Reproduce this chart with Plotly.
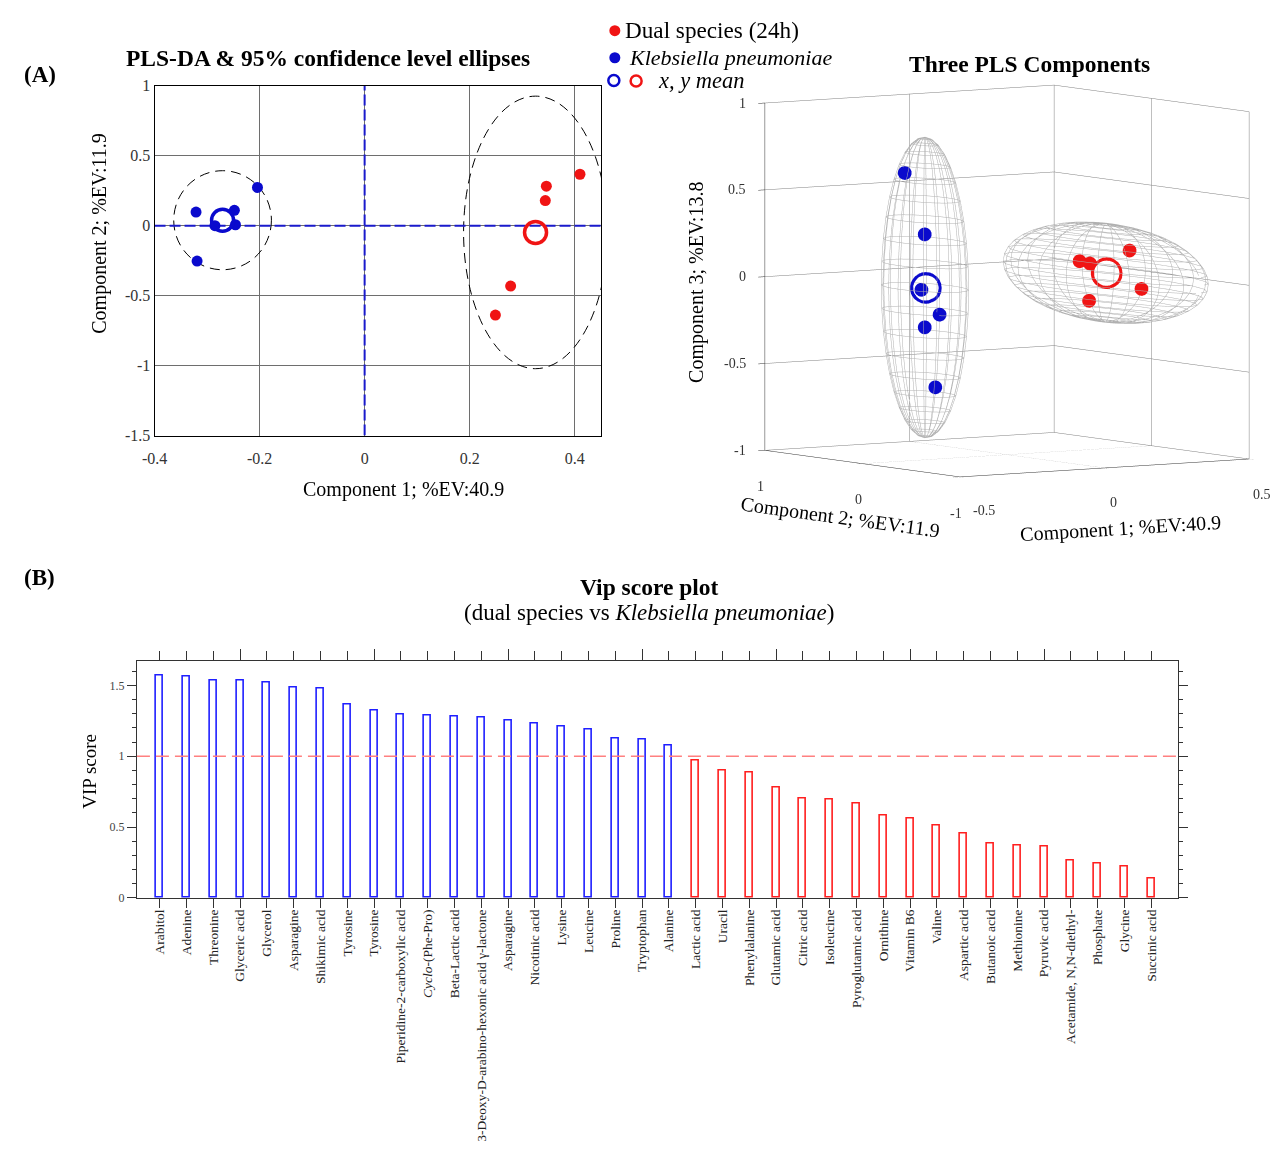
import numpy as np
import plotly.graph_objects as go

W, H = 1282, 1149
FONT = "Liberation Serif"

# ---------------- data ----------------
# PLS-DA scores (component 1, 2, 3)
kp_c1 = [-0.321, -0.319, -0.204, -0.248, -0.246, -0.285]
kp_c2 = [0.098, -0.253, 0.274, 0.110, 0.007, 0.000]
kp_c3 = [0.649, -0.140, -0.049, 0.287, -0.586, -0.236]

ds_c1 = [0.410, 0.346, 0.344, 0.278, 0.249]
ds_c2 = [0.368, 0.283, 0.180, -0.431, -0.639]
ds_c3 = [0.032, 0.058, -0.162, 0.181, -0.021]

# 95% confidence ellipse / ellipsoid semi-axes (c1, c2, c3)
kp_semi = [0.093, 0.354, 0.866]
ds_semi = [0.137, 0.974, 0.283]

# 3D axis ticks
c1_ticks = [-0.5, 0, 0.5]
c2_ticks = [-1, 0, 1]
c3_ticks = [-1, -0.5, 0, 0.5, 1]

vip_labels = ["Arabitol", "Adenine", "Threonine", "Glyceric acid", "Glycerol", "Asparagine",
              "Shikimic acid", "Tyrosine", "Tyrosine", "Piperidine-2-carboxylic acid",
              "<i>Cyclo</i>-(Phe-Pro)", "Beta-Lactic acid",
              "3-Deoxy-D-arabino-hexonic acid γ-lactone", "Asparagine", "Nicotinic acid",
              "Lysine", "Leucine", "Proline", "Tryptophan", "Alanine", "Lactic acid", "Uracil",
              "Phenylalanine", "Glutamic acid", "Citric acid", "Isoleucine", "Pyroglutamic acid",
              "Ornithine", "Vitamin B6", "Valine", "Aspartic acid", "Butanoic acid", "Methionine",
              "Pyruvic acid", "Acetamide, N,N-diethyl-", "Phosphate", "Glycine", "Succinic acid"]
vip_values = [1.570, 1.560, 1.537, 1.535, 1.523, 1.489, 1.475, 1.366, 1.322, 1.298, 1.291,
              1.278, 1.275, 1.254, 1.231, 1.210, 1.187, 1.125, 1.118, 1.076, 0.969, 0.902,
              0.883, 0.777, 0.705, 0.693, 0.668, 0.582, 0.561, 0.510, 0.454, 0.385, 0.373,
              0.366, 0.262, 0.241, 0.223, 0.139]
vip_threshold = 1.0

BLUE = "#0a0acd"
RED = "#f01414"


def px(x):
    return x / W


def py(y):
    return 1 - y / H


def fmt(v):
    return "%g" % v


kp_mean = [float(np.mean(kp_c1)), float(np.mean(kp_c2)), float(np.mean(kp_c3))]
ds_mean = [float(np.mean(ds_c1)), float(np.mean(ds_c2)), float(np.mean(ds_c3))]

fig = go.Figure()

# ---------------- 2D scores plot ----------------
fig.add_trace(go.Scatter(x=ds_c1, y=ds_c2, mode="markers", xaxis="x", yaxis="y",
                         marker=dict(color=RED, size=11), showlegend=False))
fig.add_trace(go.Scatter(x=kp_c1, y=kp_c2, mode="markers", xaxis="x", yaxis="y",
                         marker=dict(color=BLUE, size=11), showlegend=False))
fig.add_trace(go.Scatter(x=[kp_mean[0]], y=[kp_mean[1]], mode="markers", xaxis="x", yaxis="y",
                         marker=dict(symbol="circle-open", color=BLUE, size=22,
                                     line=dict(width=3.5, color=BLUE)), showlegend=False))
fig.add_trace(go.Scatter(x=[ds_mean[0]], y=[ds_mean[1]], mode="markers", xaxis="x", yaxis="y",
                         marker=dict(symbol="circle-open", color=RED, size=22,
                                     line=dict(width=3.5, color=RED)), showlegend=False))

shapes = []
for m, s in ((kp_mean, kp_semi), (ds_mean, ds_semi)):
    shapes.append(dict(type="circle", xref="x", yref="y", layer="between",
                       x0=m[0] - s[0], x1=m[0] + s[0], y0=m[1] - s[1], y1=m[1] + s[1],
                       line=dict(color="black", width=1, dash="10px,6px")))
shapes.append(dict(type="line", xref="x", yref="y", layer="between", x0=0, x1=0, y0=-1.5, y1=1,
                   line=dict(color="#1a1acc", width=2, dash="11px,4px")))
shapes.append(dict(type="line", xref="x", yref="y", layer="between", x0=-0.4, x1=0.45, y0=0, y1=0,
                   line=dict(color="#1a1acc", width=2, dash="11px,4px")))


# ---------------- 3D scores plot ----------------
def ellipsoid_lines(c, s, n=20):
    th = np.linspace(0, np.pi, n + 1)
    ph = np.linspace(0, 2 * np.pi, n + 1)
    xs, ys, zs = [], [], []
    for t in th[1:-1]:
        xs += list(c[0] + s[0] * np.sin(t) * np.cos(ph)) + [None]
        ys += list(c[1] + s[1] * np.sin(t) * np.sin(ph)) + [None]
        zs += list(c[2] + s[2] * np.cos(t) * np.ones_like(ph)) + [None]
    for p in ph[:-1]:
        xs += list(c[0] + s[0] * np.sin(th) * np.cos(p)) + [None]
        ys += list(c[1] + s[1] * np.sin(th) * np.sin(p)) + [None]
        zs += list(c[2] + s[2] * np.cos(th)) + [None]
    return xs, ys, zs


for m, s in ((kp_mean, kp_semi), (ds_mean, ds_semi)):
    ex, ey, ez = ellipsoid_lines(m, s)
    fig.add_trace(go.Scatter3d(x=ex, y=ey, z=ez, mode="lines", scene="scene",
                               line=dict(color="#b0b0b0", width=1), showlegend=False,
                               hoverinfo="skip"))

fig.add_trace(go.Scatter3d(x=ds_c1, y=ds_c2, z=ds_c3, mode="markers", scene="scene",
                           marker=dict(color=RED, size=8), showlegend=False))
fig.add_trace(go.Scatter3d(x=kp_c1, y=kp_c2, z=kp_c3, mode="markers", scene="scene",
                           marker=dict(color=BLUE, size=8), showlegend=False))
fig.add_trace(go.Scatter3d(x=[kp_mean[0]], y=[kp_mean[1]], z=[kp_mean[2]], mode="markers",
                           scene="scene", marker=dict(symbol="circle-open", color=BLUE, size=18),
                           showlegend=False))
fig.add_trace(go.Scatter3d(x=[ds_mean[0]], y=[ds_mean[1]], z=[ds_mean[2]], mode="markers",
                           scene="scene", marker=dict(symbol="circle-open", color=RED, size=18),
                           showlegend=False))

# 3D tick labels placed at the tick points through the scene projection
tick_font3d = dict(family=FONT, size=14, color="#333333")
scene_ann = []
c1_shift = {-0.5: (24, -34), 0: (9, -35), 0.5: (13, -36)}
for v in c1_ticks:
    dx, dy = c1_shift[v]
    scene_ann.append(dict(x=v, y=-1, z=-1, text=fmt(v), showarrow=False, xshift=dx, yshift=dy,
                          font=tick_font3d))
for v in c2_ticks:
    scene_ann.append(dict(x=-0.5, y=v, z=-1, text=fmt(v), showarrow=False, xshift=-4,
                          yshift=-36.5, font=tick_font3d))
for v in c3_ticks:
    scene_ann.append(dict(x=-0.5, y=1, z=v, text=fmt(v), showarrow=False, xshift=-17, yshift=0,
                          xanchor="right", font=tick_font3d))

# ---------------- VIP bar chart ----------------
pos = list(range(1, len(vip_labels) + 1))
colors = [("#1f1fff" if v >= vip_threshold else "#ff1f1f") for v in vip_values]
fig.add_trace(go.Bar(x=pos, y=vip_values, xaxis="x3", yaxis="y3", width=0.26,
                     marker=dict(color="white", line=dict(color=colors, width=1.6)),
                     showlegend=False))
fig.add_trace(go.Scatter(x=[None], y=[None], xaxis="x4", yaxis="y3", showlegend=False))
shapes.append(dict(type="line", xref="x3 domain", yref="y3", x0=0, x1=1,
                   y0=vip_threshold, y1=vip_threshold,
                   line=dict(color="#ff8080", width=1.5, dash="13px,6px")))


# ---------------- legend (drawn as symbols + text) ----------------
def leg_circle(xc, yc, r, color, fill):
    return dict(type="circle", xref="paper", yref="paper", xsizemode="pixel", ysizemode="pixel",
                xanchor=px(xc), yanchor=py(yc), x0=-r, x1=r, y0=-r, y1=r,
                fillcolor=color if fill else "rgba(0,0,0,0)",
                line=dict(color=color, width=0 if fill else 2.5))


shapes += [leg_circle(608, 23, 5.5, RED, True), leg_circle(608, 50.5, 5.5, BLUE, True),
           leg_circle(607, 73.5, 5.5, BLUE, False), leg_circle(629.5, 74, 5.5, RED, False)]

ann = []


def text(x, y, s, size, bold=False, angle=0, xanchor="center", color="black"):
    ann.append(dict(x=px(x), y=py(y), xref="paper", yref="paper", showarrow=False,
                    text=("<b>%s</b>" % s) if bold else s, textangle=angle,
                    xanchor=xanchor, yanchor="middle",
                    font=dict(family=FONT, size=size, color=color)))


text(616, 22, "Dual species (24h)", 23.2, xanchor="left")
text(620, 50, "<i>Klebsiella pneumoniae</i>", 22, xanchor="left")
text(650, 74, "<i>x, y mean</i>", 22.5, xanchor="left")

text(27, 68, "(A)", 23, bold=True)
text(27, 578, "(B)", 23, bold=True)
text(318, 51, "PLS-DA &amp; 95% confidence level ellipses", 23.5, bold=True)
text(394, 489, "Component 1; %EV:40.9", 20)
text(87, 229, "Component 2; %EV:11.9", 20, angle=-90)
text(1027, 57, "Three PLS Components", 23.5, bold=True)
text(691, 278, "Component 3; %EV:13.8", 20, angle=-90)
text(836, 517, "Component 2; %EV:11.9", 20, angle=7.8)
text(1119, 528, "Component 1; %EV:40.9", 20, angle=-3.5)
text(643, 588, "Vip score plot", 23.5, bold=True)
text(643, 614, "(dual species vs <i>Klebsiella pneumoniae</i>)", 23)
text(77, 775, "VIP score", 19, angle=-90)

tickfont2d = dict(family=FONT, size=16, color="#333333")
ax3d = dict(showbackground=False, showgrid=True, gridcolor="#7f7f7f", gridwidth=1,
            showline=True, linecolor="#333333", linewidth=1, zeroline=False, showspikes=False,
            ticks="outside", tickcolor="#333333", ticklen=8, tickwidth=1, title=dict(text=""),
            showticklabels=False)

d = 1.21
k = 1.63
fig.update_layout(
    width=W, height=H, margin=dict(l=0, r=0, t=0, b=0),
    paper_bgcolor="white", plot_bgcolor="white", showlegend=False,
    bargap=0,
    xaxis=dict(domain=[px(143), px(594)], anchor="y", range=[-0.4, 0.45],
               tickvals=[-0.4, -0.2, 0, 0.2, 0.4], ticktext=["-0.4", "-0.2", "0", "0.2", "0.4"],
               showgrid=True, gridcolor="#6e6e6e", gridwidth=1, zeroline=False,
               showline=True, linecolor="black", linewidth=1, mirror=True, ticks="",
               ticklabelstandoff=8, tickfont=tickfont2d),
    yaxis=dict(domain=[py(434), py(79)], anchor="x", range=[-1.5, 1],
               tickvals=[-1.5, -1, -0.5, 0, 0.5, 1], ticktext=["-1.5", "-1", "-0.5", "0", "0.5", "1"],
               showgrid=True, gridcolor="#6e6e6e", gridwidth=1, zeroline=False,
               showline=True, linecolor="black", linewidth=1, mirror=True, ticks="",
               tickfont=tickfont2d),
    xaxis3=dict(domain=[px(125.2), px(1177)], anchor="y3", range=[0.15, 39.0],
                tickvals=pos, ticktext=vip_labels, tickangle=-90,
                ticks="outside", ticklen=9, tickcolor="#333333", showgrid=False, zeroline=False,
                showline=True, linecolor="#333333", linewidth=1.2, mirror="ticks",
                ticklabelstandoff=-4,
                tickfont=dict(family=FONT, size=13.5, color="#222222")),
    xaxis4=dict(overlaying="x3", anchor="y3", side="top", range=[0.15, 39.0],
                tickvals=[4, 9, 14, 19, 24, 29, 34], ticks="outside", ticklen=11,
                tickcolor="#333333", showticklabels=False, showgrid=False, zeroline=False,
                showline=False),
    yaxis3=dict(domain=[py(903.3), py(663.3)], anchor="x3", range=[0, 1.669],
                tickvals=[0, 0.5, 1, 1.5], ticktext=["0", "0.5", "1", "1.5"],
                ticks="outside", ticklen=9, tickcolor="#333333", showgrid=False, zeroline=False,
                showline=True, linecolor="#333333", linewidth=1.2, mirror="ticks",
                minor=dict(dtick=0.1, ticks="outside", ticklen=4, tickcolor="#333333"),
                tickfont=dict(family=FONT, size=12, color="#444444")),
    scene=dict(domain=dict(x=[px(726), 1.0], y=[py(494), py(60)]),
               xaxis=dict(ax3d, range=[-0.5, 0.5], tickvals=c1_ticks),
               yaxis=dict(ax3d, range=[-1, 1], tickvals=c2_ticks),
               zaxis=dict(ax3d, range=[-1, 1], tickvals=c3_ticks),
               aspectmode="manual", aspectratio=dict(x=k, y=k, z=k),
               bgcolor="white", annotations=scene_ann,
               camera=dict(eye=dict(x=-0.559 * d, y=-0.829 * d, z=0.0922 * d),
                           up=dict(x=0, y=0, z=1), center=dict(x=0, y=0, z=0),
                           projection=dict(type="orthographic"))),
    shapes=shapes, annotations=ann,
)

fig.write_html("out.html", config={"displayModeBar": False},
               post_script="document.body.style.margin='0px';document.body.style.padding='0px';"
                           "document.documentElement.style.overflow='hidden';")
